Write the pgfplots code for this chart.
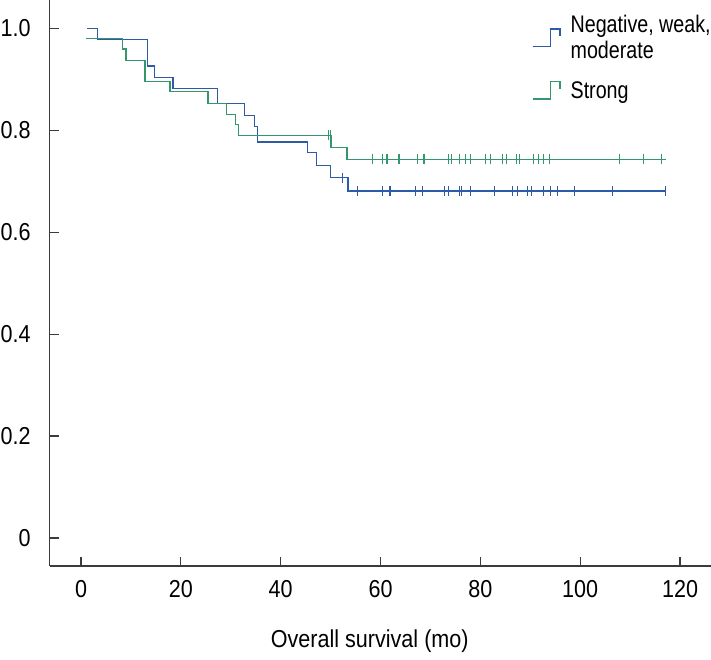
\documentclass[border=0pt]{standalone}
\usepackage{fontspec}
\setmainfont{Liberation Sans}[FakeStretch=0.88]
\newfontfamily\legfont{Liberation Sans}[FakeStretch=0.82]
\usepackage{pgfplots}
\pgfplotsset{compat=1.18}
\definecolor{kmblue}{RGB}{47,90,166}
\definecolor{kmgreen}{RGB}{52,150,108}
\definecolor{spine}{RGB}{60,58,58}
\newcommand\lf{\fontsize{24.5}{26}\selectfont}
\newcommand\lgf{\legfont\fontsize{24}{25.7}\selectfont}

\begin{document}
\begin{tikzpicture}
\begin{axis}[
    scale only axis,
    width=661.3pt, height=566pt,
    xmin=-6.27, xmax=126.2,
    ymin=-0.0549, ymax=1.0555,
    axis x line=bottom, axis y line=left,
    axis line style={-, draw=spine, line width=1.6pt},
    tick align=inside, major tick length=9pt,
    tick style={draw=spine, line width=1.2pt},
    xtick={0,20,40,60,80,100,120},
    xticklabels={0,20,40,60,80,100,120},
    ytick={0,0.2,0.4,0.6,0.8,1.0},
    yticklabels={0,0.2,0.4,0.6,0.8,1.0},
    tick label style={font=\lf, inner sep=0pt},
    xticklabel style={anchor=north, yshift=-14pt},
    yticklabel style={anchor=east, xshift=-19pt},
    xlabel={Overall survival (mo)},
    xlabel style={font=\lf, inner sep=0pt, at={(axis description cs:0.484,0)}, anchor=north, yshift=-64pt},
    legend style={at={(0.7289,0.9730)}, anchor=north west, draw=none, fill=none,
        font=\lgf, inner sep=0pt, row sep=21pt, column sep=10pt,
        nodes={align=left, inner sep=0pt}},
    legend cell align=left,
    legend image code/.code={\draw[#1] (0pt,-8.7pt) -- (17.6pt,-8.7pt) -- (17.6pt,8.7pt) -- (27.3pt,8.7pt) -- (27.3pt,1.3pt);},
]

% step curves
\addplot[const plot, color=kmblue, line width=1.4pt] coordinates {
    (1.2,1.0) (3.3,0.978) (13.3,0.926) (14.7,0.903) (18.4,0.882)
    (27.3,0.852) (32.8,0.829) (34.8,0.807) (35.3,0.777) (45.4,0.756)
    (47.2,0.731) (50.0,0.707) (53.5,0.681) (117.1,0.681)
};
\addlegendentry{Negative, weak,\\moderate}

\addplot[const plot, color=kmgreen, line width=1.4pt] coordinates {
    (1.0,0.980) (8.3,0.959) (9.0,0.937) (12.8,0.896) (17.8,0.876)
    (25.4,0.852) (29.2,0.831) (31.0,0.811) (31.6,0.790) (50.1,0.766)
    (53.3,0.743) (117.1,0.743)
};
\addlegendentry{Strong}

% censored
\addplot[forget plot, only marks, mark=|, mark size=5pt, color=kmblue, line width=1.1pt] coordinates {
    (52.3,0.707)
    (55.3,0.681) (60.4,0.681) (61.9,0.681) (67.0,0.681) (68.4,0.681)
    (72.8,0.681) (73.7,0.681) (75.8,0.681) (76.2,0.681) (78.0,0.681)
    (82.9,0.681) (86.4,0.681) (87.4,0.681) (89.4,0.681) (90.2,0.681)
    (92.6,0.681) (94.1,0.681) (95.4,0.681) (98.8,0.681) (106.4,0.681)
    (117.1,0.681)
};
\addplot[forget plot, only marks, mark=|, mark size=5pt, color=kmgreen, line width=1.1pt] coordinates {
    (49.5,0.790) (49.9,0.790)
    (58.4,0.743) (60.4,0.743) (61.3,0.743) (63.7,0.743) (67.4,0.743)
    (68.7,0.743) (73.6,0.743) (74.3,0.743) (75.9,0.743) (77.0,0.743)
    (78.0,0.743) (81.1,0.743) (82.1,0.743) (84.4,0.743) (85.3,0.743)
    (87.2,0.743) (87.9,0.743) (90.6,0.743) (91.6,0.743) (92.6,0.743)
    (93.8,0.743) (107.9,0.743) (112.6,0.743) (116.3,0.743)
};
\end{axis}
\pgfresetboundingbox
\path (current axis.south west) ++(-49.7pt,-94pt) rectangle (current axis.north east);
\end{tikzpicture}
\end{document}
